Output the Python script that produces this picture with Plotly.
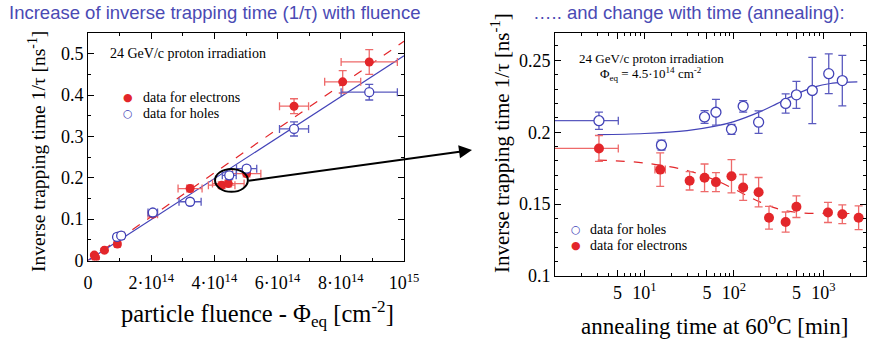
import plotly.graph_objects as go

# ---------------- data: 1/tau versus fluence ----------------
fl_e = [2.0e13, 2.4e13, 5.2e13, 9.3e13, 1.05e14, 2.05e14, 3.23e14, 4.23e14, 4.44e14, 5.02e14, 6.52e14, 8.06e14, 8.9e14]
inv_e = [0.013, 0.007, 0.025, 0.040, 0.060, 0.112, 0.174, 0.182, 0.186, 0.210, 0.373, 0.432, 0.480]
inv_e_err = [0.004, 0.004, 0.004, 0.005, 0.006, 0.006, 0.008, 0.008, 0.008, 0.008, 0.018, 0.027, 0.030]
fl_e_err = [0.3e13, 0.3e13, 0.5e13, 0.9e13, 1.0e13, 1.5e13, 3.8e13, 4.2e13, 5.0e13, 4.5e13, 4.6e13, 5.7e13, 8.9e13]

fl_h = [9.2e13, 1.05e14, 2.05e14, 3.23e14, 4.47e14, 5.02e14, 6.52e14, 8.9e14]
inv_h = [0.057, 0.060, 0.116, 0.142, 0.206, 0.222, 0.318, 0.407]
inv_h_err = [0.005, 0.005, 0.005, 0.007, 0.009, 0.007, 0.017, 0.019]
fl_h_err = [0.9e13, 1.0e13, 1.5e13, 3.5e13, 2.2e13, 3.2e13, 4.6e13, 8.9e13]

# linear fits
fit_fl = [0, 1e15]
fit_e = [0, 0.530]
fit_h = [0, 0.495]

fl_ticks = [0, 2e14, 4e14, 6e14, 8e14, 1e15]
fl_labels = ["0", "2·10<sup>14</sup>", "4·10<sup>14</sup>", "6·10<sup>14</sup>", "8·10<sup>14</sup>", "10<sup>15</sup>"]
fl_minor = [1e14, 3e14, 5e14, 7e14, 9e14]
inv_ticks = [0, 0.1, 0.2, 0.3, 0.4, 0.5]
inv_labels = ["0", "0.1", "0.2", "0.3", "0.4", "0.5"]
inv_minor = [0.05, 0.15, 0.25, 0.35, 0.45]

# ---------------- data: 1/tau versus annealing time ----------------
t_h = [3.1, 15.5, 47, 63, 94, 127, 189, 379, 500, 753, 1150, 1630]
ann_h = [0.208, 0.191, 0.2106, 0.2139, 0.202, 0.218, 0.207, 0.220, 0.226, 0.229, 0.2407, 0.2359]
ann_h_err = [0.006, 0.0035, 0.0044, 0.009, 0.0035, 0.004, 0.0078, 0.0067, 0.0094, 0.023, 0.0138, 0.0176]
t_h_plus = [2.0, 1.6, 0, 0, 0, 0, 0, 0, 0, 0, 0, 0]
t_h_minus = [2.6, 1.6, 0, 0, 0, 0, 0, 0, 0, 0, 0, 0]

t_e = [3.1, 15, 32, 47, 63, 94, 127, 189, 247, 379, 500, 1127, 1630, 2480]
ann_e = [0.1887, 0.174, 0.1662, 0.1683, 0.1653, 0.1694, 0.1616, 0.1583, 0.1405, 0.1375, 0.1482, 0.1442, 0.1429, 0.1405]
ann_e_err = [0.009, 0.0116, 0.0064, 0.0096, 0.0066, 0.0116, 0.009, 0.0102, 0.0079, 0.007, 0.0075, 0.007, 0.0065, 0.0083]
t_e_plus = [2.0, 2.1, 0, 0, 0, 0, 0, 0, 0, 0, 0, 0, 0, 0]
t_e_minus = [2.6, 1.9, 0, 0, 0, 0, 0, 0, 0, 0, 0, 0, 0, 0]

# annealing fit curves
fit_t_h = [3, 10, 30, 60, 100, 200, 300, 500, 800, 1200, 1700, 2400]
fit_ann_h = [0.1983, 0.1991, 0.2011, 0.2040, 0.2074, 0.2145, 0.2197, 0.2265, 0.2315, 0.2339, 0.2347, 0.2350]
fit_t_e = [3, 10, 30, 60, 100, 150, 200, 300, 400, 600, 1000, 2500]
fit_ann_e = [0.1806, 0.1786, 0.1734, 0.1670, 0.1606, 0.1549, 0.1512, 0.1470, 0.1451, 0.1438, 0.1435, 0.1435]

t_ticks = [5, 10, 50, 100, 500, 1000]
t_labels = ["5", "10<sup>1</sup>", "5", "10<sup>2</sup>", "5", "10<sup>3</sup>"]
t_minor = [2, 3, 4, 6, 7, 8, 9, 20, 30, 40, 60, 70, 80, 90,
           200, 300, 400, 600, 700, 800, 900, 2000, 3000]
ann_ticks = [0.1, 0.15, 0.2, 0.25]
ann_labels = ["0.1", "0.15", "0.2", "0.25"]
ann_minor = [0.11, 0.12, 0.13, 0.14, 0.16, 0.17, 0.18, 0.19, 0.21, 0.22, 0.23, 0.24, 0.26]

# ---------------- styles ----------------
W, H = 876, 340
RED = "#e3262a"
RED_BAR = "#ee6a6a"
BLUE = "#4343b8"
BLUE_BAR = "#5a5abf"
TITLE_BLUE = "#4a4ab4"
SERIF = "Liberation Serif"
SANS = "Liberation Sans"


def px(x):
    return x / W


def py(y):
    return 1 - y / H


fig = go.Figure()

# left panel
fig.add_trace(go.Scatter(x=fit_fl, y=fit_e, mode="lines", xaxis="x", yaxis="y",
                         line=dict(color=RED, width=1.2, dash="dash"), showlegend=False))
fig.add_trace(go.Scatter(x=fit_fl, y=fit_h, mode="lines", xaxis="x", yaxis="y",
                         line=dict(color=BLUE, width=1.2), showlegend=False))
fig.add_trace(go.Scatter(
    x=fl_e, y=inv_e, mode="markers", xaxis="x", yaxis="y", showlegend=False,
    marker=dict(color=RED, size=9, line=dict(width=0)),
    error_y=dict(type="data", array=inv_e_err, color=RED_BAR, thickness=1.3, width=4),
    error_x=dict(type="data", array=fl_e_err, color=RED_BAR, thickness=1.3, width=4)))
fig.add_trace(go.Scatter(
    x=fl_h, y=inv_h, mode="markers", xaxis="x", yaxis="y", showlegend=False,
    marker=dict(color="white", size=9, line=dict(color=BLUE, width=1.3)),
    error_y=dict(type="data", array=inv_h_err, color=BLUE_BAR, thickness=1.3, width=4),
    error_x=dict(type="data", array=fl_h_err, color=BLUE_BAR, thickness=1.3, width=4)))

# right panel
fig.add_trace(go.Scatter(x=fit_t_h, y=fit_ann_h, mode="lines", xaxis="x2", yaxis="y2",
                         line=dict(color=BLUE, width=1.2, shape="spline"), showlegend=False))
fig.add_trace(go.Scatter(x=fit_t_e, y=fit_ann_e, mode="lines", xaxis="x2", yaxis="y2",
                         line=dict(color=RED, width=1.2, dash="dash", shape="spline"), showlegend=False))
fig.add_trace(go.Scatter(
    x=t_e, y=ann_e, mode="markers", xaxis="x2", yaxis="y2", showlegend=False,
    marker=dict(color=RED, size=10, line=dict(width=0)),
    error_y=dict(type="data", array=ann_e_err, color=RED_BAR, thickness=1.3, width=4),
    error_x=dict(type="data", symmetric=False, array=t_e_plus, arrayminus=t_e_minus,
                 color=RED_BAR, thickness=1.3, width=4)))
fig.add_trace(go.Scatter(
    x=t_h, y=ann_h, mode="markers", xaxis="x2", yaxis="y2", showlegend=False,
    marker=dict(color="white", size=10, line=dict(color=BLUE, width=1.3)),
    error_y=dict(type="data", array=ann_h_err, color=BLUE_BAR, thickness=1.3, width=4),
    error_x=dict(type="data", symmetric=False, array=t_h_plus, arrayminus=t_h_minus,
                 color=BLUE_BAR, thickness=1.3, width=4)))


def axis(**kw):
    base = dict(showline=True, linecolor="black", linewidth=1, mirror="ticks",
                ticks="inside", ticklen=6, tickcolor="black", tickwidth=1,
                showgrid=False, zeroline=False, tickmode="array", automargin=False,
                tickfont=dict(family=SERIF, size=18, color="black"))
    base.update(kw)
    return base


def minor(vals):
    return dict(tickmode="array", tickvals=vals, ticks="inside", ticklen=3, tickcolor="black")


fig.update_layout(
    width=W, height=H, autosize=False,
    margin=dict(l=0, r=0, t=0, b=0, autoexpand=False),
    paper_bgcolor="white", plot_bgcolor="white",
    showlegend=False,
    xaxis=axis(domain=[px(88), px(404)], range=[0, 1e15], anchor="y",
               tickvals=fl_ticks, ticktext=fl_labels, minor=minor(fl_minor),
               ticklabelstandoff=6),
    yaxis=axis(domain=[py(260.5), py(33)], range=[0, 0.55], anchor="x",
               tickvals=inv_ticks, ticktext=inv_labels, minor=minor(inv_minor)),
    xaxis2=axis(type="log", domain=[px(555), px(866)], range=[0, 3.477], anchor="y2",
                tickvals=t_ticks, ticktext=t_labels, minor=minor(t_minor)),
    yaxis2=axis(domain=[py(276), py(33)], range=[0.1, 0.269], anchor="x2",
                tickvals=ann_ticks, ticktext=ann_labels, minor=minor(ann_minor)),
)

# highlight of the 4.5e14 points
fig.add_shape(type="circle", xref="x", yref="y", x0=4.02e14, x1=5.06e14, y0=0.166, y1=0.2215,
              line=dict(color="black", width=2))

ann = []


def text(x, y, s, size, family=SERIF, color="black", xanchor="left", angle=0):
    ann.append(dict(x=px(x), y=py(y), xref="paper", yref="paper", text=s, showarrow=False,
                    xanchor=xanchor, yanchor="middle", textangle=angle,
                    font=dict(family=family, size=size, color=color)))


# headings
text(7, 13, "Increase of inverse trapping time (1/τ) with fluence", 18.5, SANS, TITLE_BLUE)
text(531, 13, "….. and change with time (annealing):", 18.5, SANS, TITLE_BLUE)

# axis titles
text(37, 152, "Inverse trapping time 1/τ [ns<sup>-1</sup>]", 19.5, xanchor="center", angle=-90)
text(500, 143, "Inverse trapping time 1/τ [ns<sup>-1</sup>]", 21, xanchor="center", angle=-90)
text(257, 314, "particle fluence - Φ<sub>eq</sub> [cm<sup>-2</sup>]", 24.5, xanchor="center")
text(714, 324, "annealing time at 60<sup>o</sup>C [min]", 23, xanchor="center")

# panel notes
text(108, 53, "24 GeV/c proton irradiation", 14)
text(577, 58, "24 GeV/c proton irradiation", 13)
text(598, 74, "Φ<sub>eq</sub> = 4.5·10<sup>14</sup> cm<sup>-2</sup>", 13)

# legends
text(128, 98, "●", 11, "DejaVu Sans", RED, xanchor="center")
text(141, 98, "data for electrons", 14)
text(128, 114, "○", 11, "DejaVu Sans", BLUE, xanchor="center")
text(141, 114, "data for holes", 14)
text(576, 229, "○", 11, "DejaVu Sans", BLUE, xanchor="center")
text(588, 229, "data for holes", 14)
text(576, 245, "●", 11, "DejaVu Sans", RED, xanchor="center")
text(588, 245, "data for electrons", 14)

# arrow from the circled points to the annealing panel
ann.append(dict(x=px(472), y=py(150), xref="paper", yref="paper", text="", showarrow=True,
                ax=-225, ay=31, arrowhead=2, arrowsize=1.3, arrowwidth=2, arrowcolor="black",
                standoff=0))

fig.update_layout(annotations=ann)
fig.write_html("out.html")
